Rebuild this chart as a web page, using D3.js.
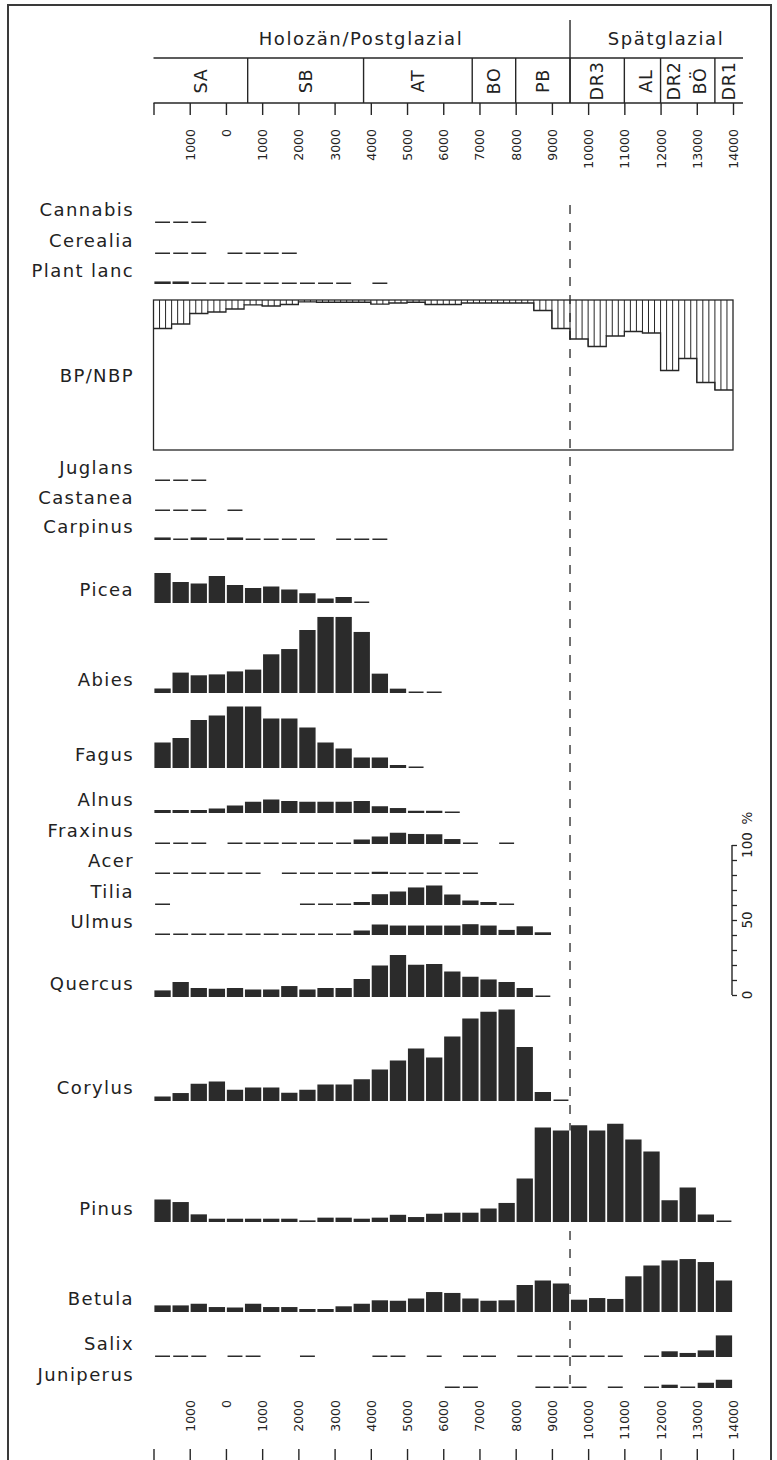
<!DOCTYPE html>
<html><head><meta charset="utf-8">
<script src="https://cdn.jsdelivr.net/npm/d3@7"></script>
<style>
html,body{margin:0;padding:0;background:#fff;}
svg{display:block;}
text{font-family:"DejaVu Sans",sans-serif;fill:#222;}
</style></head><body>
<svg id="chart" width="777" height="1460"></svg>
<script>
// ---------------- DATA ----------------
// start of each 500-year bin (years BC; negative = AD)
const binStart = [-2000,-1500,-1000,-500,0,500,1000,1500,2000,2500,3000,3500,4000,4500,5000,5500,
                  6000,6500,7000,7500,8000,8500,9000,9500,10000,10500,11000,11500,12000,12500,13000,13500];
const tickValues = [-2000,-1000,0,1000,2000,3000,4000,5000,6000,7000,8000,9000,10000,11000,12000,13000,14000];
const tickLabels = ["","1000","0","1000","2000","3000","4000","5000","6000","7000","8000","9000","10000","11000","12000","13000","14000"];
const periods = ["Holozän/Postglazial","Spätglazial"];
const periodBounds = [-2000, 9500, 14000];
const zoneNames = ["SA","SB","AT","BO","PB","DR3","AL","DR2|BÖ","DR1"];
const zoneBounds = [-2000,600,3800,6800,8000,9500,11000,12000,13500,14000];
const N = null; // not found; 0.5 = trace (+)

const cannabis  = [.5,.5,.5,N,N,N,N,N,N,N,N,N,N,N,N,N,N,N,N,N,N,N,N,N,N,N,N,N,N,N,N,N];
const cerealia  = [.5,.5,.5,N,.5,.5,.5,.5,N,N,N,N,N,N,N,N,N,N,N,N,N,N,N,N,N,N,N,N,N,N,N,N];
const plantLanc = [1.7,1.7,.5,.5,.5,.5,.5,.5,.5,.5,.5,N,.5,N,N,N,N,N,N,N,N,N,N,N,N,N,N,N,N,N,N,N];
const nbp       = [19,16,9,8,6,3.3,4,3,1.3,1.5,1.5,1.5,2.7,2,1.5,3,3,2,2,2,2,7,19,26,31,24,21,22,47,39,55,60];
const juglans   = [.5,.5,.5,N,N,N,N,N,N,N,N,N,N,N,N,N,N,N,N,N,N,N,N,N,N,N,N,N,N,N,N,N];
const castanea  = [.5,.5,.5,N,.5,N,N,N,N,N,N,N,N,N,N,N,N,N,N,N,N,N,N,N,N,N,N,N,N,N,N,N];
const carpinus  = [1.7,.5,1.7,.5,1.7,.5,.5,.5,.5,N,.5,.5,.5,N,N,N,N,N,N,N,N,N,N,N,N,N,N,N,N,N,N,N];
const picea     = [20,14,13,18,12,10,11,9,6.5,3,4,.5,N,N,N,N,N,N,N,N,N,N,N,N,N,N,N,N,N,N,N,N];
const abies     = [3,13.6,11.8,12.4,14.4,15.6,25.8,29.3,42,50.7,50.7,40.7,12.9,2.9,.5,.5,N,N,N,N,N,N,N,N,N,N,N,N,N,N,N,N];
const fagus     = [17,20,32,35,41,41,33,33,27,17,13,7,7,2,.5,N,N,N,N,N,N,N,N,N,N,N,N,N,N,N,N,N];
const alnus     = [2,2,2,3,5,7.5,9,8,7.5,7.5,7.5,8,4.5,3.3,1.5,1.5,.5,N,N,N,N,N,N,N,N,N,N,N,N,N,N,N];
const fraxinus  = [.5,.5,.5,N,.5,.5,.5,.5,.5,.5,.5,3,5,7.5,6.7,6.5,3.3,.5,N,.5,N,N,N,N,N,N,N,N,N,N,N,N];
const acer      = [.5,.5,.5,.5,.5,.5,N,.5,.5,.5,.5,.5,1.5,1,.5,.5,.5,.5,N,N,N,N,N,N,N,N,N,N,N,N,N,N];
const tilia     = [.5,N,N,N,N,N,N,N,.5,.5,.5,2,7.2,9,11.7,13,7,3,2,.5,N,N,N,N,N,N,N,N,N,N,N,N];
const ulmus     = [.5,.5,.5,.5,.5,.5,.5,.5,.5,.5,.5,3,7,6.3,6.3,6.3,6.3,7.2,6.3,3.4,5.8,1.8,N,N,N,N,N,N,N,N,N,N];
const quercus   = [4.4,10,6,5.5,6,5,5,7.3,5,6,6,12,21,28,21.5,22,17,13.5,11.7,10,6,.5,N,N,N,N,N,N,N,N,N,N];
const corylus   = [3,5.3,11.5,13,7.5,9,9,5.5,7.5,11,11,14.5,21,27,35,29,43,55,59.5,61,36,6,.5,N,N,N,N,N,N,N,N,N];
const pinus     = [15,13.3,5.1,2.2,2.2,2.2,2.2,2.2,1.1,2.9,2.9,2.2,2.9,4.8,3.3,5.5,6.2,6.2,9,12.7,29,63,61,64.5,61,65.5,55,47,14.5,23,5,.5];
const betula    = [4.4,4.4,5.5,3.3,3,5.5,3.3,3.3,2,2,3.8,5.5,7.8,7.5,9,13.3,12.7,9,7.5,7.8,18,21,19,8.2,9.3,8.7,23.8,31,34.4,35.3,33.3,21];
const salix     = [.5,.5,.5,N,.5,.5,N,N,.5,N,N,N,.5,.5,N,.5,N,.5,.5,N,.5,.5,.5,.5,.5,.5,N,.5,3.8,2.7,4.4,14.4];
const juniperus = [N,N,N,N,N,N,N,N,N,N,N,N,N,N,N,N,.5,.5,N,N,N,.5,.5,.5,N,.5,N,.5,2.2,.5,3.5,5.5];

const taxa = ["Cannabis","Cerealia","Plant lanc","Juglans","Castanea","Carpinus","Picea","Abies","Fagus",
  "Alnus","Fraxinus","Acer","Tilia","Ulmus","Quercus","Corylus","Pinus","Betula","Salix","Juniperus"];
const series = [cannabis,cerealia,plantLanc,juglans,castanea,carpinus,picea,abies,fagus,
  alnus,fraxinus,acer,tilia,ulmus,quercus,corylus,pinus,betula,salix,juniperus];

// ---------------- LAYOUT ----------------
const rowBase = [223,254,284,481,511,540,603,693,768,813,844,874,905,935,997,1101,1222,1312,1357,1388];
const nbpTop = 300, nbpBottom = 450;
const W = 777, H = 1460;
const ink = "#262626";

const svg = d3.select("#chart");
const x = d3.scaleLinear().domain([-2000,14000]).range([153.5,733]);
const hgt = d3.scaleLinear().domain([0,100]).range([0,150]);
const headerEnd = 743;
const boundary = 9500;

// frame
svg.append("path").attr("d",`M8,${H+5} V5 H771 V${H+5}`)
  .attr("fill","none").attr("stroke","#3a3a3a").attr("stroke-width",2);

// ---------------- HEADER ----------------
const hdr = svg.append("g").attr("stroke",ink).attr("stroke-width",1.4);
hdr.append("line").attr("x1",x(-2000)).attr("x2",headerEnd).attr("y1",58).attr("y2",58);
hdr.append("line").attr("x1",x(-2000)).attr("x2",headerEnd).attr("y1",103).attr("y2",103);
hdr.append("line").attr("x1",x(periodBounds[1])).attr("x2",x(periodBounds[1])).attr("y1",20).attr("y2",103);
hdr.selectAll("line.zb").data(zoneBounds.slice(1,-1)).enter().append("line")
  .attr("x1",d=>x(d)).attr("x2",d=>x(d)).attr("y1",58).attr("y2",103);

const periodX = [361, 666];
svg.selectAll("text.period").data(periods).enter().append("text")
  .attr("x",(d,i)=>periodX[i]).attr("y",45).attr("text-anchor","middle")
  .attr("font-size",18).attr("letter-spacing",1.6).text(d=>d);

// zone labels (rotated)
const zoneLabelData = [];
zoneNames.forEach((z,i)=>{
  let cx = (x(zoneBounds[i]) + (i===zoneNames.length-1 ? headerEnd : x(zoneBounds[i+1]))) / 2;
  if (z.includes("|")) {
    const parts = z.split("|");
    zoneLabelData.push({t:parts[0], cx:cx-14});
    zoneLabelData.push({t:parts[1], cx:cx+12});
  } else {
    if (z==="AL") cx += 3;
    zoneLabelData.push({t:z, cx:cx});
  }
});
svg.selectAll("text.zone").data(zoneLabelData).enter().append("text")
  .attr("transform",d=>`translate(${d.cx},81) rotate(-90)`)
  .attr("text-anchor","middle").attr("dy","0.36em")
  .attr("font-size",17.5).attr("letter-spacing",0.8).text(d=>d.t);

// top time axis
const topAxis = d3.axisBottom(x).tickValues(tickValues).tickSize(12).tickSizeOuter(0)
  .tickFormat((d,i)=>tickLabels[i]);
const gTop = svg.append("g").attr("transform","translate(0,103)").call(topAxis);
gTop.select(".domain").remove();
gTop.selectAll("line").attr("stroke",ink).attr("stroke-width",1.4);
gTop.selectAll("text").attr("x",0).attr("y",0).attr("dy","0.36em")
  .attr("transform","translate(0,26) rotate(-90)").attr("text-anchor","end")
  .attr("font-family","DejaVu Sans").attr("font-size",12.5).attr("fill","#222");

// bottom time axis
const botAxis = d3.axisTop(x).tickValues(tickValues).tickSize(22).tickSizeOuter(0)
  .tickFormat((d,i)=>tickLabels[i]);
const gBot = svg.append("g").attr("transform","translate(0,1471)").call(botAxis);
gBot.selectAll("line").attr("stroke",ink).attr("stroke-width",1.4);
gBot.select(".domain").attr("stroke",ink);
gBot.selectAll("text").attr("x",0).attr("y",0).attr("dy","0.36em")
  .attr("transform","translate(0,-71) rotate(-90)").attr("text-anchor","end")
  .attr("font-family","DejaVu Sans").attr("font-size",12.5).attr("fill","#222");

// ---------------- DASHED BOUNDARY ----------------
svg.append("line").attr("x1",x(boundary)).attr("x2",x(boundary)).attr("y1",205).attr("y2",1390)
  .attr("stroke",ink).attr("stroke-width",1.3).attr("stroke-dasharray","9,9");
// the dashed line is hidden where bars stand on both sides of it
const bIdx = binStart.indexOf(boundary);
const masks = [];
series.forEach((s,r)=>{
  const a = s[bIdx-1], b = s[bIdx];
  if (a!==null && b!==null && a>=1 && b>=1) masks.push({base:rowBase[r], h:hgt(Math.min(a,b))});
});
svg.selectAll("rect.mask").data(masks).enter().append("rect")
  .attr("x",x(boundary)-1.2).attr("width",2.4)
  .attr("y",d=>d.base-d.h).attr("height",d=>d.h).attr("fill","#fff");

// ---------------- BP/NBP ----------------
const gN = svg.append("g");
gN.append("rect").attr("x",x(-2000)).attr("y",nbpTop).attr("width",x(14000)-x(-2000))
  .attr("height",nbpBottom-nbpTop).attr("fill","none").attr("stroke",ink).attr("stroke-width",1.3);
const hatch = [];
binStart.forEach((b,i)=>{
  const x0 = x(b), w = x(b+500)-x(b);
  [0,1,2].forEach(k=>hatch.push({x:x0+k*w/3, v:nbp[i]}));
});
gN.selectAll("line.h").data(hatch).enter().append("line")
  .attr("x1",d=>d.x).attr("x2",d=>d.x).attr("y1",nbpTop).attr("y2",d=>nbpTop+hgt(d.v))
  .attr("stroke",ink).attr("stroke-width",1);
const stepPts = binStart.map((b,i)=>[x(b), nbpTop+hgt(nbp[i])]);
stepPts.push([x(14000), nbpTop+hgt(nbp[nbp.length-1])]);
gN.append("path").attr("d",d3.line().curve(d3.curveStepAfter)(stepPts))
  .attr("fill","none").attr("stroke",ink).attr("stroke-width",1.3);
svg.append("text").attr("x",134).attr("y",382).attr("text-anchor","end")
  .attr("font-size",18).attr("letter-spacing",1.4).text("BP/NBP");

// ---------------- TAXA ----------------
taxa.forEach((name,r)=>{
  const base = rowBase[r];
  const g = svg.append("g");
  g.append("text").attr("x",134).attr("y",base-7).attr("text-anchor","end")
    .attr("font-size",18).attr("letter-spacing",1.4).text(name);
  const bars = series[r].map((v,i)=>({v, b:binStart[i]})).filter(d=>d.v!==null);
  g.selectAll("rect").data(bars).enter().append("rect")
    .attr("x",d=>x(d.b) + (d.v<1 ? 1.6 : 0.9))
    .attr("width",d=>x(d.b+500)-x(d.b) - (d.v<1 ? 3.2 : 1.8))
    .attr("y",d=>base - Math.max(1.5, hgt(d.v)))
    .attr("height",d=>Math.max(1.5, hgt(d.v)))
    .attr("fill","#2b2b2b");
});

// ---------------- SCALE BAR ----------------
const sY = d3.scaleLinear().domain([0,100]).range([995,845]);
const sAxis = d3.axisRight(sY).tickValues([0,10,20,30,40,50,60,70,80,90,100]).tickSize(5).tickFormat("");
const gS = svg.append("g").attr("transform","translate(732,0)").call(sAxis);
gS.select(".domain").remove();
gS.selectAll("line").attr("stroke",ink).attr("stroke-width",1.3);
gS.append("line").attr("x1",0).attr("x2",0).attr("y1",sY(0)).attr("y2",sY(100)).attr("stroke",ink).attr("stroke-width",1.4);
const scaleLabels = [{v:0,t:"0"},{v:50,t:"50"},{v:100,t:"100"}];
svg.selectAll("text.sl").data(scaleLabels).enter().append("text")
  .attr("transform",d=>`translate(747,${sY(d.v)}) rotate(-90)`)
  .attr("text-anchor","middle").attr("dy","0.36em").attr("font-size",13.5).text(d=>d.t);
svg.append("text").attr("transform",`translate(747,${sY(100)-27}) rotate(-90)`)
  .attr("text-anchor","middle").attr("dy","0.36em").attr("font-size",13.5).text("%");
</script>
</body></html>
